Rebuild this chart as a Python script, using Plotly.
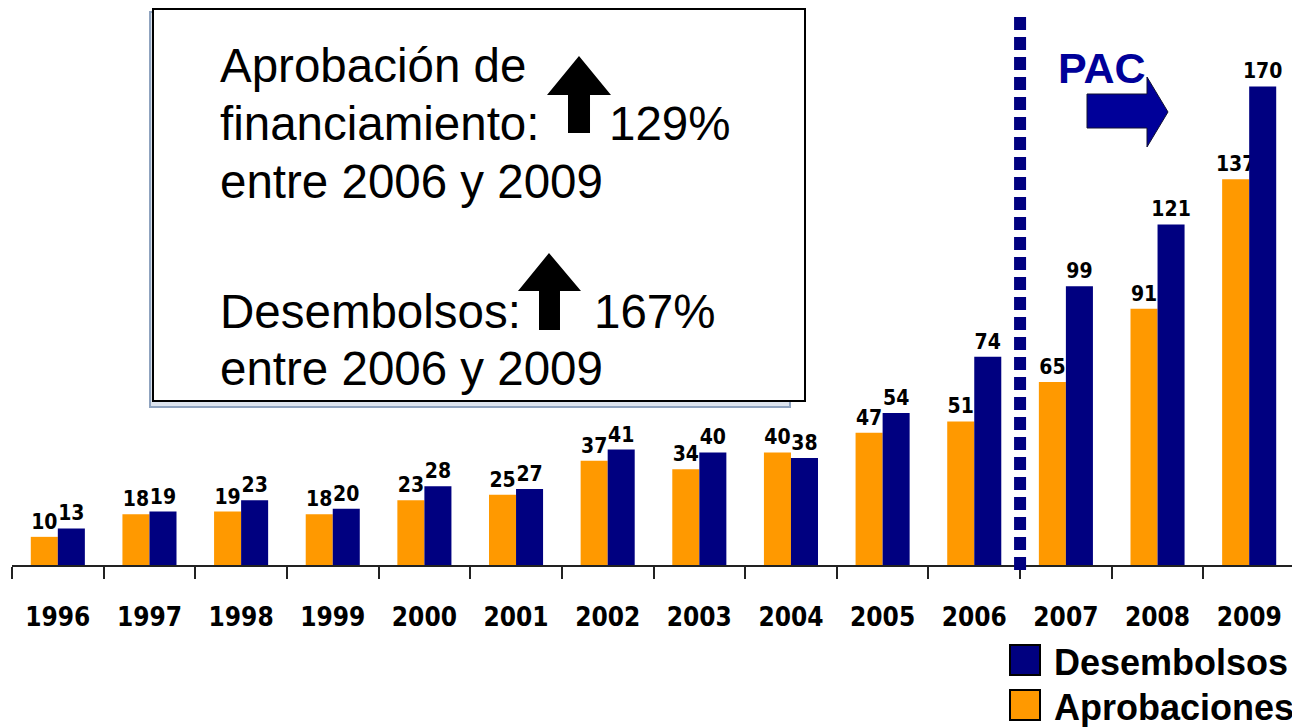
import plotly.graph_objects as go

years = ["1996", "1997", "1998", "1999", "2000", "2001", "2002",
         "2003", "2004", "2005", "2006", "2007", "2008", "2009"]
aprobaciones = [10, 18, 19, 18, 23, 25, 37, 34, 40, 47, 51, 65, 91, 137]
desembolsos = [13, 19, 23, 20, 28, 27, 41, 40, 38, 54, 74, 99, 121, 170]

ORANGE = "#FF9900"
NAVY = "#000080"
LABEL_FONT = "DejaVu Sans Condensed, Liberation Sans Narrow, DejaVu Sans, sans-serif"
ARIAL = "Liberation Sans, Arial, sans-serif"

# the page body has an 8px margin, so the figure is drawn 8px smaller and
# all reference pixel positions are shifted by OFF
OFF = 8
W, H = 1300 - OFF, 727 - OFF
PLOT_L, PLOT_R, PLOT_T, PLOT_B = 12, 1295, 8, 565   # in reference pixels
ML = PLOT_L - OFF
MR = W - (PLOT_R - OFF)
MT = PLOT_T - OFF
MB = H - (PLOT_B - OFF)
PW = PLOT_R - PLOT_L
PH = PLOT_B - PLOT_T


def px(x):
    return (x - PLOT_L) / PW


def py(y):
    return (PLOT_B - y) / PH


fig = go.Figure()
fig.add_trace(go.Bar(
    x=years, y=aprobaciones, name="Aprobaciones",
    marker=dict(color=ORANGE, line=dict(width=0)),
    text=[str(v) for v in aprobaciones], textposition="outside",
    textfont=dict(family=LABEL_FONT, size=21, color="black", weight="bold"),
    constraintext="none", cliponaxis=False, showlegend=False,
))
fig.add_trace(go.Bar(
    x=years, y=desembolsos, name="Desembolsos",
    marker=dict(color=NAVY, line=dict(width=0)),
    text=[str(v) for v in desembolsos], textposition="outside",
    textfont=dict(family=LABEL_FONT, size=21, color="black", weight="bold"),
    constraintext="none", cliponaxis=False, showlegend=False,
))

shapes = []
# dotted PAC separator between 2006 and 2007
shapes.append(dict(type="line", xref="x", yref="paper", x0=10.5, x1=10.5,
                   y0=py(570), y1=py(10),
                   line=dict(color=NAVY, width=12, dash="13px,7px"), layer="above"))
# text box shadow + box
shapes.append(dict(type="rect", xref="paper", yref="paper",
                   x0=px(150), x1=px(790), y0=py(407), y1=py(12),
                   line=dict(color="#8FA3BF", width=2), fillcolor="#DDE4EE", layer="above"))
shapes.append(dict(type="rect", xref="paper", yref="paper",
                   x0=px(153), x1=px(805), y0=py(401), y1=py(9),
                   line=dict(color="black", width=2), fillcolor="white", layer="above"))


def poly(points, fill, line_color, lw=0):
    d = "M " + " L ".join(f"{px(x):.5f},{py(y):.5f}" for x, y in points) + " Z"
    return dict(type="path", xref="paper", yref="paper", path=d,
                fillcolor=fill, line=dict(color=line_color, width=lw), layer="above")


# black up arrows in box
shapes.append(poly([(579, 56), (611, 95), (590, 95), (590, 133), (568, 133), (568, 95), (547, 95)],
                   "black", "black"))
shapes.append(poly([(549, 253), (581, 291), (560, 291), (560, 330), (539, 330), (539, 291), (518, 291)],
                   "black", "black"))
# PAC arrow
shapes.append(poly([(1087, 94), (1147, 94), (1147, 77), (1168, 112), (1147, 147), (1147, 128), (1087, 128)],
                   "#000099", "#111133", 1))
# legend squares
shapes.append(dict(type="rect", xref="paper", yref="paper",
                   x0=px(1010), x1=px(1040), y0=py(675), y1=py(645),
                   line=dict(color="black", width=2), fillcolor=NAVY, layer="above"))
shapes.append(dict(type="rect", xref="paper", yref="paper",
                   x0=px(1010), x1=px(1040), y0=py(720), y1=py(690),
                   line=dict(color="black", width=2), fillcolor=ORANGE, layer="above"))

annotations = []


def txt(text, x, y, size, color="black", bold=False, xanchor="left", family=ARIAL):
    annotations.append(dict(text=text, xref="paper", yref="paper", x=px(x), y=py(y),
                            xanchor=xanchor, yanchor="middle", showarrow=False,
                            font=dict(family=family, size=size, color=color,
                                      weight="bold" if bold else "normal")))


txt("Aprobación de", 218, 65, 47.5)
txt("financiamiento:", 218, 124, 47.5)
txt("129%", 607, 124, 47.5)
txt("entre 2006 y 2009", 218, 182, 47.5)
txt("Desembolsos:", 218, 311, 47.5)
txt("167%", 592, 311, 47.5)
txt("entre 2006 y 2009", 218, 369, 47.5)
txt("PAC", 1102, 68, 43, color="#000099", bold=True, xanchor="center")
txt("Desembolsos", 1052, 662, 36, bold=True)
txt("Aprobaciones", 1052, 707, 36, bold=True)

fig.update_layout(
    width=W, height=H,
    margin=dict(l=ML, r=MR, t=MT, b=MB),
    paper_bgcolor="white", plot_bgcolor="white",
    barmode="group", bargap=0.41, bargroupgap=0,
    shapes=shapes, annotations=annotations,
    xaxis=dict(type="category", showline=True, linecolor="#222222", linewidth=2,
               ticks="outside", tickson="boundaries", ticklen=12, tickwidth=2,
               tickcolor="#222222", showgrid=False, zeroline=False,
               ticklabelstandoff=28,
               tickfont=dict(family=LABEL_FONT, size=26, color="black", weight="bold")),
    yaxis=dict(range=[0, PH / 2.815], visible=False, showgrid=False, zeroline=False),
)

fig.write_html("out.html")
